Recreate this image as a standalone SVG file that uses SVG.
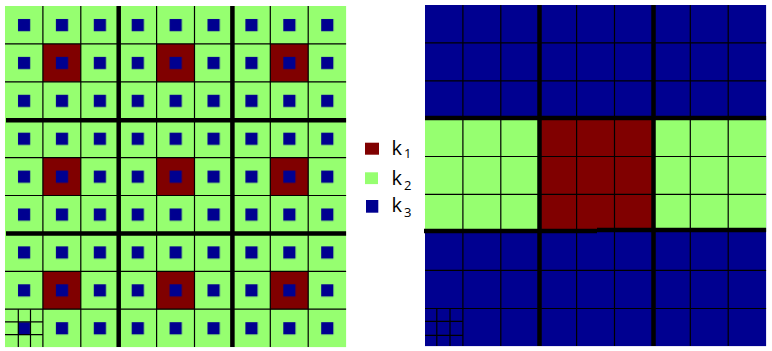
<svg xmlns="http://www.w3.org/2000/svg" width="772" height="351" viewBox="0 0 772 351">
<style>
.g{fill:#96ff70}.r{fill:#800000}.b{fill:#000090}
.thin{stroke:#000;stroke-width:1.2;fill:none}
.thick{stroke:#000;stroke-width:4.5;fill:none}
.lt{font-family:"Open Sans","Liberation Sans",sans-serif;font-size:20px;fill:#000}
.sub{font-size:13px}
</style>
<defs>
<pattern id="sq" x="5" y="6" width="37.9" height="37.9" patternUnits="userSpaceOnUse">
<rect x="13" y="13" width="12.2" height="12.2" fill="#000090"/>
</pattern>
</defs>
<rect width="772" height="351" fill="#fff"/>
<g id="left-grid">
<rect class="g" x="5" y="6" width="341.1" height="341.1"/>
<rect class="r" x="42.9" y="43.9" width="37.9" height="37.9"/>
<rect class="r" x="156.6" y="43.9" width="37.9" height="37.9"/>
<rect class="r" x="270.3" y="43.9" width="37.9" height="37.9"/>
<rect class="r" x="42.9" y="157.6" width="37.9" height="37.9"/>
<rect class="r" x="156.6" y="157.6" width="37.9" height="37.9"/>
<rect class="r" x="270.3" y="157.6" width="37.9" height="37.9"/>
<rect class="r" x="42.9" y="271.3" width="37.9" height="37.9"/>
<rect class="r" x="156.6" y="271.3" width="37.9" height="37.9"/>
<rect class="r" x="270.3" y="271.3" width="37.9" height="37.9"/>
<rect x="5" y="6" width="341.1" height="341.1" fill="url(#sq)"/>
<path class="thin" d="M42.9 6V347.1M80.8 6V347.1M156.6 6V347.1M194.5 6V347.1M270.3 6V347.1M308.2 6V347.1M5 43.9H346.1M5 81.8H346.1M5 157.6H346.1M5 195.5H346.1M5 271.3H346.1M5 309.2H346.1"/>
<path class="thin" d="M18.3 309.2V347.1M30.5 309.2V347.1M5 321.8H42.9M5 334.6H42.9"/>
<path class="thick" d="M118.7 6V347.1M232.4 6V347.1M6 120.2H346.1M6 233.6H346.1"/>
</g>
<g id="legend">
<rect class="r" x="365" y="142.7" width="14" height="12"/>
<rect class="g" x="365" y="172.3" width="13" height="11.8"/>
<rect class="b" x="366" y="200" width="12.3" height="12.7"/>
<text class="lt" x="391.5" y="154.7">k<tspan class="sub" dx="2" dy="3.6">1</tspan></text>
<text class="lt" x="391.5" y="185">k<tspan class="sub" dx="2" dy="5">2</tspan></text>
<text class="lt" x="391.5" y="212.3">k<tspan class="sub" dx="2" dy="4.4">3</tspan></text>
</g>
<g id="right-grid">
<rect class="b" x="425" y="5" width="341.1" height="341.1"/>
<rect class="g" x="425" y="118" width="341.1" height="113.5"/>
<rect class="r" x="539" y="118" width="114" height="113.5"/>
<path class="thin" d="M462.9 5V346.1M500.8 5V346.1M576.6 5V346.1M614.5 5V346.1M690.3 5V346.1M728.2 5V346.1M425 42.9H766.1M425 80.8H766.1M425 156.5H766.1M425 194.4H766.1M425 270.3H766.1M425 308.5H766.1"/>
<path class="thin" d="M436.8 308.5V346.1M450 308.5V346.1M425 321.3H462.9M425 335.3H462.9"/>
<path class="thick" d="M539.5 5V346.1M653.5 5V346.1M425 118H766.1M424 231.1H597M597 230H766.1"/>
</g>
</svg>
